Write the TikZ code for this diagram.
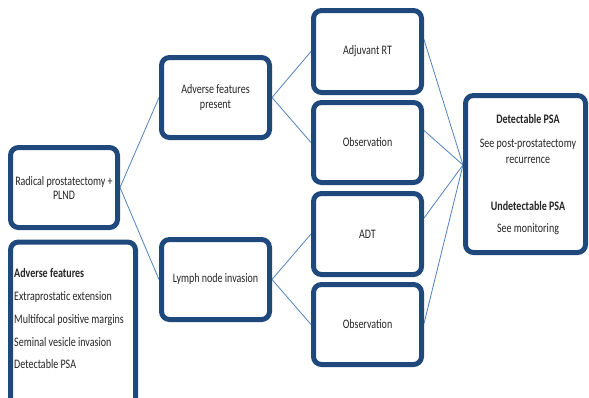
\documentclass[tikz,border=0pt]{standalone}
\usepackage{fontspec}
\setmainfont{Carlito}[FakeStretch=0.77]
\usetikzlibrary{calc,backgrounds}
\definecolor{boxblue}{RGB}{31,73,125}
\definecolor{linkblue}{RGB}{79,129,189}
\begin{document}
\begin{tikzpicture}[x=1pt,y=-1pt,
  stepbox/.style={draw=boxblue,line width=5pt,rounded corners=8pt,fill=white,
    align=center,inner sep=2pt,font=\fontsize{13}{14}\selectfont,text=black!85},
  link/.style={draw=linkblue,line width=0.8pt}]
\useasboundingbox (0,0) rectangle (589,397);
\clip (0,0) rectangle (589,397);
\node[stepbox,minimum width=107pt,minimum height=80pt] (rad) at (64,187.5) {Radical prostatectomy +\\PLND};
\node[stepbox,minimum width=108pt,minimum height=80pt,font=\fontsize{13}{15.5}\selectfont] (afp) at (215.5,97.5) {Adverse features\\present};
\node[stepbox,minimum width=108pt,minimum height=80pt] (lni) at (215.5,279.5) {Lymph node invasion};
\node[stepbox,minimum width=108pt,minimum height=82pt] (adj) at (367.5,51.5) {Adjuvant RT};
\node[stepbox,minimum width=108pt,minimum height=80pt] (obs1) at (367.5,142.5) {Observation};
\node[stepbox,minimum width=108pt,minimum height=81pt] (adt) at (367.5,234) {ADT};
\node[stepbox,minimum width=108pt,minimum height=80pt] (obs2) at (367.5,324.5) {Observation};
\node[stepbox,minimum width=120pt,minimum height=157pt] (res) at (525.5,174) {};
\node[stepbox,minimum width=125pt,minimum height=175pt,anchor=north] (feat) at (73,239.5) {};
\node[anchor=north west,align=left,inner sep=0pt,font=\fontsize{13}{22.9}\selectfont,text=black!85]
  (feattxt) at (14,268) {\textbf{Adverse features}\\Extraprostatic extension\\Multifocal positive margins\\Seminal vesicle invasion\\Detectable PSA};
\node[anchor=north,align=center,inner sep=0pt,font=\fontsize{13}{15.4}\selectfont,text=black!85]
  (restxt) at (528,114) {\textbf{Detectable PSA}\\[9.2pt]See post-prostatectomy\\recurrence\\[31.9pt]\textbf{Undetectable PSA}\\[6.3pt]See monitoring};
\coordinate (rin) at ($(res.west)+(0,-9)$);
\begin{scope}[on background layer]
\draw[link] (rad.east) -- (afp.west);
\draw[link] (rad.east) -- (lni.west);
\draw[link] (afp.east) -- (adj.west);
\draw[link] (afp.east) -- (obs1.west);
\draw[link] (lni.east) -- (adt.west);
\draw[link] (lni.east) -- (obs2.west);
\draw[link] ($(adj.east)+(0,-12)$) -- (rin);
\draw[link] ($(obs1.east)+(0,-12)$) -- (rin);
\draw[link] ($(adt.east)+(0,-16)$) -- (rin);
\draw[link] ($(obs2.east)+(0,-1)$) -- (rin);
\end{scope}
\end{tikzpicture}
\end{document}
